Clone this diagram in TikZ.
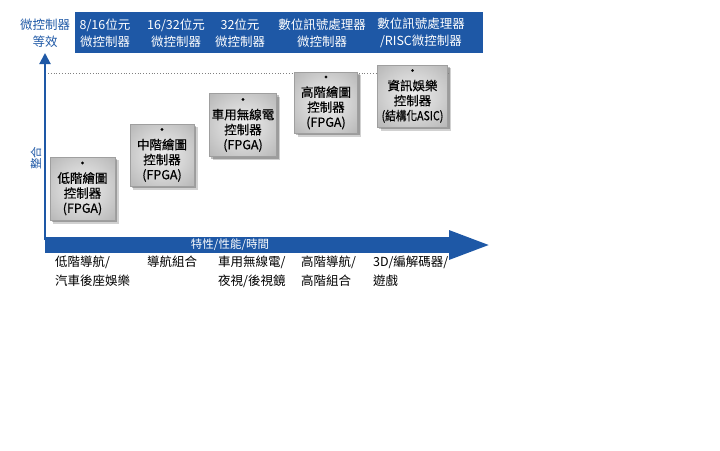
\documentclass[tikz,border=0pt]{standalone}
\usepackage{fontspec}
\setmainfont{Noto Sans CJK TC}
\newfontfamily\chipfont[FakeBold=0.5]{Noto Sans CJK TC}
\usepackage{graphicx}
\usepackage{tikz}
\usetikzlibrary{arrows.meta,backgrounds}
\usepackage{xcolor}
\definecolor{chipblue}{RGB}{30,88,166}
\pgfdeclareradialshading{chipshade}{\pgfpoint{0bp}{0bp}}{color(0bp)=(gray!14); color(18bp)=(gray!34); color(38bp)=(gray!60); color(72bp)=(gray!78)}

\begin{document}
\begin{tikzpicture}[x=1pt, y=-1pt,
    chip/.style={rectangle, draw=gray!75, shading=chipshade, align=center, inner sep=0pt,
        font=\chipfont\fontsize{12.5}{15}\selectfont},
    head/.style={text=white, align=center, font=\fontsize{12.5}{17}\selectfont},
    app/.style={anchor=north west, align=left, inner sep=0pt, font=\fontsize{12.5}{18.5}\selectfont}]
    \begin{scope}[on background layer]
        \fill[white] (0,0) rectangle (720,450);
    \end{scope}
    \useasboundingbox (0,0) rectangle (720,450);

    % header bar
    \fill[chipblue] (75,12) rectangle (483,53);
    \node[text=chipblue, align=center, font=\fontsize{12.5}{17}\selectfont] (equiv) at (45,33) {微控制器\\等效};
    \node[head] (h1) at (105,33) {8/16位元\\微控制器};
    \node[head] (h2) at (176,33) {16/32位元\\微控制器};
    \node[head] (h3) at (240,33) {32位元\\微控制器};
    \node[head] (h4) at (322,33) {數位訊號處理器\\微控制器};
    \node[head] (h5) at (421,33) {數位訊號處理器\\/RISC微控制器};

    % axes
    \coordinate (origin) at (45,245);
    \coordinate (ytop) at (45,53);
    \coordinate (xtip) at (492,245);
    \draw[chipblue, line width=2pt, -{Triangle[width=11pt,length=11pt]}] (45,240) -- (ytop);
    \draw[chipblue, line width=16pt, -{Triangle[width=26pt,length=43pt]}] (origin) -- (xtip);
    \node[text=white, font=\fontsize{11.5}{14}\selectfont] (xlabel) at (230,245) {特性/性能/時間};
    \node[text=chipblue, rotate=90, font=\fontsize{11.5}{13}\selectfont] (ylabel) at (36,158) {整合};
    \draw[gray, dotted, thick] (48,73) -- (450,73);

    % controllers
    \node[chip, minimum width=65pt, minimum height=63pt] (c1) at (82.5,188.5) {•\\低階繪圖\\控制器\\(FPGA)};
    \node[chip, minimum width=64pt, minimum height=62pt] (c2) at (162,155) {•\\中階繪圖\\控制器\\(FPGA)};
    \node[chip, minimum width=67pt, minimum height=63pt] (c3) at (243,125) {•\\車用無線電\\控制器\\(FPGA)};
    \node[chip, minimum width=63pt, minimum height=61pt] (c4) at (326,102.5) {•\\高階繪圖\\控制器\\(FPGA)};
    \node[chip, minimum width=70pt, minimum height=62pt] (c5) at (412.5,96) {•\\資訊娛樂\\控制器\\\scalebox{0.85}[1]{(結構化ASIC)}};

    % shadows under the controllers
    \begin{scope}[on background layer]
        \foreach \c in {c1,c2,c3,c4,c5} {
            \fill[black, opacity=0.18] ([shift={(3.5pt,-3.5pt)}]\c.south west) rectangle ([shift={(3.5pt,-3.5pt)}]\c.north east);
            \fill[black, opacity=0.25] ([shift={(2pt,-2pt)}]\c.south west) rectangle ([shift={(2pt,-2pt)}]\c.north east);
        }
    \end{scope}

    % applications
    \node[app] (a1) at (55,256) {低階導航/\\汽車後座娛樂};
    \node[app] (a2) at (147,256) {導航組合};
    \node[app] (a3) at (218,256) {車用無線電/\\夜視/後視鏡};
    \node[app] (a4) at (301,256) {高階導航/\\高階組合};
    \node[app] (a5) at (373,256) {3D/編解碼器/\\遊戲};
\end{tikzpicture}
\end{document}
